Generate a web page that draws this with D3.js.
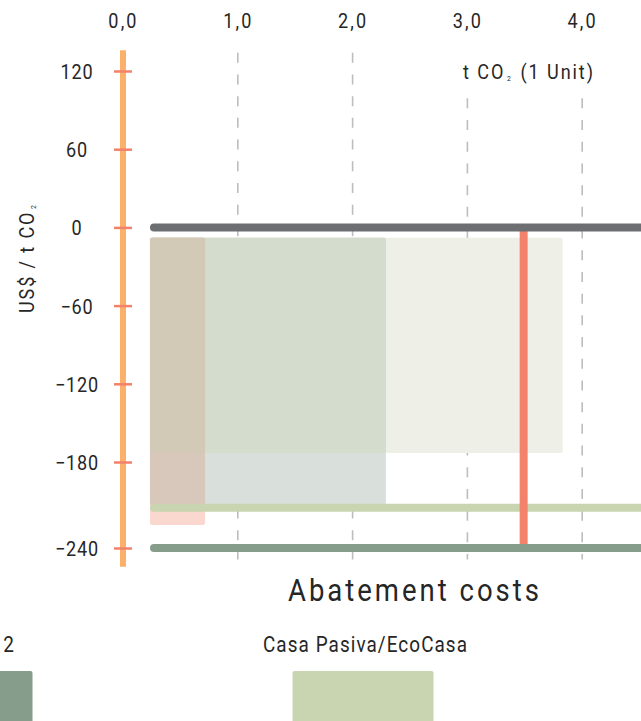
<!DOCTYPE html>
<html><head><meta charset="utf-8">
<script src="https://cdn.jsdelivr.net/npm/d3@7"></script>
<style>
html,body{margin:0;padding:0;background:#fff;overflow:hidden;}
svg{display:block;}
text{font-family:Roboto,"DejaVu Sans Condensed",sans-serif;fill:#262626;}
</style></head><body>
<svg id="chart" width="641" height="721"></svg>
<script>
// ---- data ----
const xTicks = [0, 1, 2, 3, 4];
const yTicks = [120, 60, 0, -60, -120, -180, -240];
const yDomain = [120, -180, -240];           // the original axis has a kink below -180

const boxStart  = [0.235, 0.235, 0.235];
const boxEnd    = [3.83, 2.29, 0.715];
const boxTop    = [-8, -8, -8];
const boxBottom = [-173, -210, -224];
const boxFill   = ["#eef0e8", "#d9e0dc", "#fad7cf"];
const overlapSets  = [[0, 1], [1, 2], [0, 1, 2]];
const overlapFill  = ["#d3dccd", "#d8c7bb", "#d2c9b7"];

const lineValues = [-212, 0, -240];
const lineColors = ["#c9d4b0", "#6d6e71", "#859d8a"];
const lineStart = 0.235, lineEnd = 5.2;

const markerX = 3.49;
const markerRange = [0, -240];

const legendLabels = ["2", "Casa Pasiva/EcoCasa"];
const legendColors = ["#859d8a", "#c9d4b0"];

const title = "Abatement costs";

// ---- scales ----
const SQ = 0.86;   // horizontal squeeze to imitate a condensed face
const svg = d3.select("#chart");
const x = d3.scaleLinear().domain([0, 4]).range([123, 582.2]);
const y = d3.scaleLinear().domain(yDomain).range([71, 462, 548]);
const fmtX = d => d.toFixed(1).replace(".", ",");
const fmtY = d => String(d).replace("-", "\u2212");

// grid
const grid = svg.append("g");
xTicks.filter(d => d > 0).forEach(d => {
  grid.append("line")
    .attr("x1", x(d)).attr("x2", x(d))
    .attr("y1", d < 3 ? y(134) : y(99)).attr("y2", y(-248))
    .attr("stroke", "#bdbdbd").attr("stroke-width", 1.6)
    .attr("stroke-dasharray", "10,11.7");
});

// boxes
const boxes = boxStart.map((s, i) => ({x0: s, x1: boxEnd[i], y0: boxTop[i], y1: boxBottom[i], fill: boxFill[i]}));
function inter(idx) {
  return {
    x0: d3.max(idx, i => boxStart[i]), x1: d3.min(idx, i => boxEnd[i]),
    y0: d3.min(idx, i => boxTop[i]), y1: d3.max(idx, i => boxBottom[i])
  };
}
const drawList = [
  boxes[0], boxes[1], Object.assign(inter(overlapSets[0]), {fill: overlapFill[0]}),
  boxes[2], Object.assign(inter(overlapSets[1]), {fill: overlapFill[1]}),
  Object.assign(inter(overlapSets[2]), {fill: overlapFill[2]})
];
svg.append("g").selectAll("rect").data(drawList).join("rect")
  .attr("x", d => x(d.x0)).attr("width", d => x(d.x1) - x(d.x0))
  .attr("y", d => y(d.y0)).attr("height", d => y(d.y1) - y(d.y0))
  .attr("rx", 2).attr("fill", d => d.fill);

function hline(i) {
  svg.append("line")
    .attr("x1", x(lineStart) + 4).attr("x2", x(lineEnd))
    .attr("y1", y(lineValues[i])).attr("y2", y(lineValues[i]))
    .attr("stroke", lineColors[i]).attr("stroke-width", 8)
    .attr("stroke-linecap", "round");
}
hline(0);
svg.append("line")
  .attr("x1", x(markerX)).attr("x2", x(markerX))
  .attr("y1", y(markerRange[0])).attr("y2", y(markerRange[1]))
  .attr("stroke", "#f2826a").attr("stroke-width", 8);
hline(1); hline(2);

// y axis (orange)
svg.append("line")
  .attr("x1", x(0)).attr("x2", x(0)).attr("y1", y(136)).attr("y2", y(-253))
  .attr("stroke", "#fbb06b").attr("stroke-width", 6);
const yAxis = svg.append("g").attr("transform", `translate(${x(0)},0)`)
  .call(d3.axisLeft(y).tickValues(yTicks).tickSize(0).tickPadding(0).tickFormat(fmtY));
yAxis.attr("font-family", null).attr("font-size", 21).attr("text-anchor", "middle");
yAxis.select(".domain").remove();
yAxis.selectAll(".tick line").attr("x1", -9).attr("x2", 9)
  .attr("stroke", "#f3826a").attr("stroke-width", 2.5);
yAxis.selectAll(".tick text").attr("fill", "#262626").attr("letter-spacing", 1)
  .attr("x", -46 / SQ).attr("dy", "0.36em").attr("transform", `scale(${SQ},1)`);

// x axis labels (top)
const xAxis = svg.append("g").attr("transform", "translate(0,28)")
  .call(d3.axisTop(x).tickValues(xTicks).tickSize(0).tickPadding(0).tickFormat(fmtX));
xAxis.attr("font-family", null).attr("font-size", 21);
xAxis.select(".domain").remove();
xAxis.selectAll(".tick text").attr("fill", "#262626").attr("dy", 0).attr("letter-spacing", 2.5)
  .attr("transform", `scale(${SQ},1)`);

// unit label
const unit = svg.append("text").attr("transform", `translate(463,79) scale(${SQ},1)`)
  .attr("text-anchor", "start").attr("font-size", 21)
  .attr("textLength", 130 / SQ).attr("lengthAdjust", "spacing");
unit.append("tspan").text("t CO");
unit.append("tspan").attr("font-size", 8).attr("dx", 2).attr("dy", 2).text("2");
unit.append("tspan").attr("dx", 9).attr("dy", -2).text("(1 Unit)");

// y title
const yt = svg.append("text").attr("transform", `translate(34,313) rotate(-90) scale(${SQ},1)`)
  .attr("text-anchor", "start").attr("font-size", 21)
  .attr("textLength", 108 / SQ).attr("lengthAdjust", "spacing");
yt.append("tspan").text("US$ / t CO");
yt.append("tspan").attr("font-size", 8).attr("dx", 2).attr("dy", 2).text("2");

// title
svg.append("text").attr("transform", `translate(288,601) scale(${SQ},1)`).attr("text-anchor", "start")
  .attr("font-size", 32).attr("fill", "#383838")
  .attr("textLength", 251 / SQ).attr("lengthAdjust", "spacing").text(title);

// legend
const legX = [-38, 363];
legendLabels.forEach((t, i) => {
  const lt = svg.append("text").attr("font-size", 22);
  if (i === 0) {
    lt.attr("transform", `translate(14,652) scale(${SQ},1)`).attr("text-anchor", "end");
  } else {
    lt.attr("transform", `translate(263,652) scale(${SQ},1)`).attr("text-anchor", "start")
      .attr("textLength", 204 / SQ).attr("lengthAdjust", "spacing");
  }
  lt.text(t);
  svg.append("rect").attr("x", legX[i] - 70.5).attr("width", 141)
    .attr("y", 671).attr("height", 60).attr("rx", 2).attr("fill", legendColors[i]);
});
</script>
</body></html>
